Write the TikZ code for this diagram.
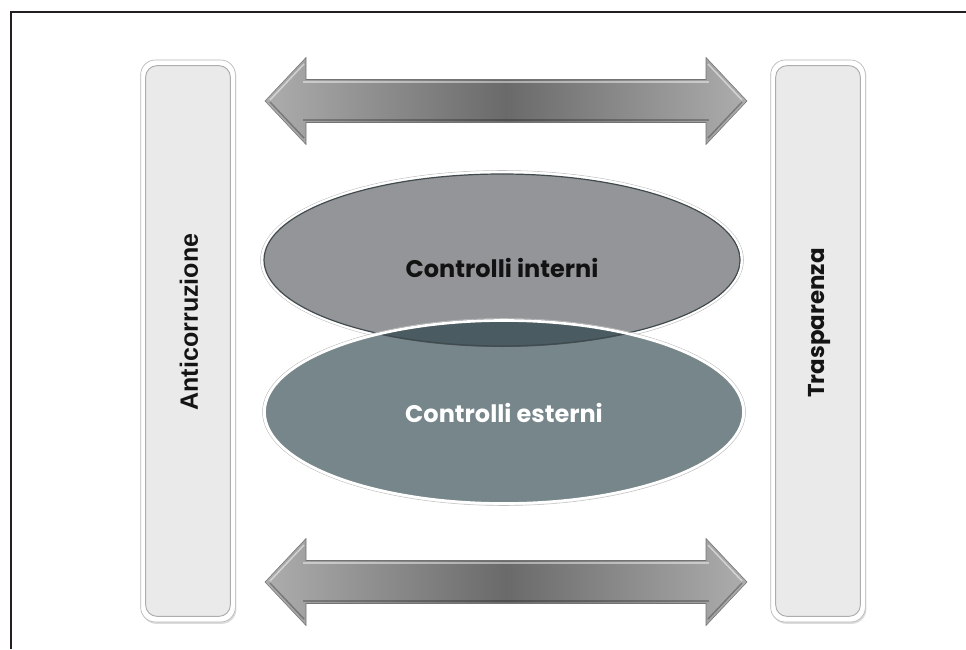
\documentclass[tikz,border=0pt]{standalone}
\usepackage{fontspec}
\setmainfont{Poppins}
\newfontfamily\barfont{Liberation Sans}
\usetikzlibrary{shadows}

\definecolor{framecol}{HTML}{231F20}
\definecolor{barfill}{HTML}{EAEAEA}
\definecolor{ellA}{HTML}{939598}
\definecolor{ellB}{HTML}{76868B}
\definecolor{ellAB}{HTML}{4A5B61}
\definecolor{arrEnd}{HTML}{ADADAD}
\definecolor{arrMid}{HTML}{6A6A6A}

\tikzset{
  softshadow/.style={drop shadow={opacity=0.28, shadow xshift=0.8pt, shadow yshift=-1.4pt}},
  barout/.style={rounded corners=11pt, fill=white, draw=black!28, line width=0.5pt,
    minimum width=71pt, minimum height=421.5pt, inner sep=0pt, softshadow},
  barin/.style={rounded corners=8.5pt, fill=barfill, draw=black!32, line width=0.7pt,
    minimum width=63.5pt, minimum height=413pt, inner sep=0pt},
  bartext/.style={rotate=90, inner sep=0pt, text=black!92},
  elltext/.style={inner sep=0pt, font=\bfseries\fontsize{18}{18}\selectfont},
  dblarrow/.pic={
    \shade[left color=arrEnd, right color=arrEnd, middle color=arrMid,
           draw=black!55, line width=0.4pt, line join=miter]
      (-241,0) -- (-200,-43.5) -- (-200,-21.5) -- (200,-21.5) -- (200,-43.5)
      -- (241,0) -- (200,43.5) -- (200,21.5) -- (-200,21.5) -- (-200,43.5) -- cycle;
    % bevel highlights and shades
    \draw[white, opacity=0.5, line width=1.1pt] (-236,-1) -- (-202,-37);
    \draw[white, opacity=0.5, line width=1.1pt] (236,-1) -- (202,-37);
    \draw[black, opacity=0.28, line width=1.1pt] (-236,1) -- (-202,37);
    \draw[black, opacity=0.28, line width=1.1pt] (236,1) -- (202,37);
    \draw[white, opacity=0.45, line width=1.3pt] (-203,-19) -- (203,-19);
    \draw[black, opacity=0.25, line width=1.3pt] (-203,19.2) -- (203,19.2);
  }
}

\begin{document}
\begin{tikzpicture}[x=0.75pt, y=-0.75pt]
\useasboundingbox (0,0) rectangle (966,649);

% page frame: left and top rules only
\draw[framecol, line width=1.5pt] (11,649) -- (11,12) -- (966,12);

% side bars
\node[barout] (antiO) at (188,341) {};
\node[barin]  (antiI) at (antiO.center) {};
\node[bartext, font=\barfont\bfseries\fontsize{18.8}{18.8}\selectfont] (antiT) at (189,322) {Anticorruzione};

\node[barout] (traspO) at (818,341) {};
\node[barin]  (traspI) at (traspO.center) {};
\node[bartext, font=\bfseries\fontsize{17.2}{17.2}\selectfont] (traspT) at (819,323) {Trasparenza};

% double arrows
\pic at (506,101) {dblarrow};
\pic at (506,582) {dblarrow};

% upper ellipse
\fill[ellA, softshadow] (502,260) ellipse [x radius=239, y radius=87];
\draw[black!25, line width=0.4pt] (502,260) ellipse [x radius=241.5, y radius=89.5];
\draw[white, line width=2pt] (502,260) ellipse [x radius=239.5, y radius=87.5];

% lower ellipse
\fill[ellB, softshadow] (504,412) ellipse [x radius=239, y radius=91];
\begin{scope}
  \clip (502,260) ellipse [x radius=239, y radius=87];
  \fill[ellAB] (504,412) ellipse [x radius=239, y radius=91];
  \draw[black!45!ellB, line width=0.9pt] (502,260) ellipse [x radius=238, y radius=86];
\end{scope}
\draw[black!25, line width=0.4pt] (504,412) ellipse [x radius=241.5, y radius=93.5];
\draw[white, line width=2pt] (504,412) ellipse [x radius=239.5, y radius=91.5];

% ellipse labels
\node[elltext, text=black!93] (intT) at (502,268) {Controlli interni};
\node[elltext, text=white] (estT) at (504,413) {Controlli esterni};
\end{tikzpicture}
\end{document}
